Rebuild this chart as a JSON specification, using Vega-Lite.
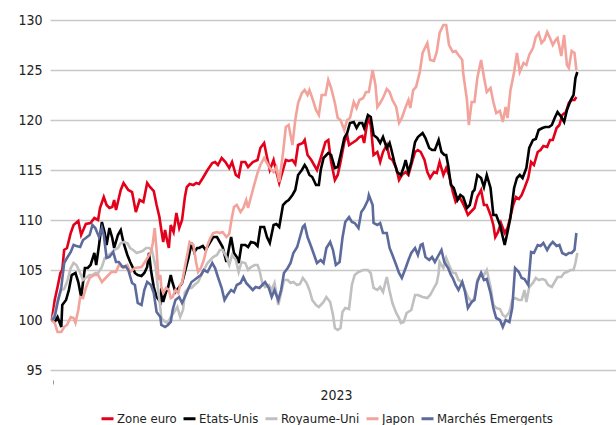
{
"$schema": "https://vega.github.io/schema/vega-lite/v6.json",
"width": 566, "height": 350,
"autosize": {"type": "none"},
"padding": {"left": 50, "top": 20, "right": 0, "bottom": 55},
"background": "white",
"config": {"view": {"stroke": null}, "font": "DejaVu Sans Condensed, Liberation Sans Narrow, sans-serif"},
"datasets": {
"ze": [[2,100],[5,102],[8,103.3],[11,104.7],[13,105],[15,107],[18,107.2],[22,108.7],[25,109.5],[30,109.9],[33,108.5],[38,109.6],[43,109.7],[47,110.2],[51,110],[53,111.2],[57,112.3],[60,111.5],[63,111.2],[66,111.3],[68,112],[70,111],[75,113],[78,113.7],[83,113],[87,112.8],[91,110.8],[95,112],[99,111.8],[103,113.7],[106,113.3],[110,112.9],[113,111.5],[116,110.3],[118,109],[120,107.8],[122,109],[124,108],[126,107.2],[128,109.5],[131,108.8],[134,110.7],[137,109.2],[140,110],[143,112.3],[145,113.3],[148,113.6],[152,113.5],[155,113.7],[158,113.6],[162,114.2],[167,115],[172,115.7],[175,115.8],[178,115.5],[182,116.2],[186,115.8],[190,115.2],[193,115.8],[197,114.5],[200,114.3],[203,115.8],[207,115.8],[210,115.3],[215,115.8],[220,116],[223,117.2],[227,117.7],[230,116.3],[233,115],[237,116],[240,114.8],[243,113.7],[247,115],[250,116],[253,115.9],[257,116],[260,115.6],[263,117.5],[268,117.7],[270,118],[273,116.5],[277,116],[280,115.5],[283,115],[287,116.2],[292,117.8],[295,118],[298,115.8],[302,114],[305,114.5],[308,115.8],[312,117.8],[315,118.5],[317,117.5],[322,117.8],[325,118],[328,118.3],[331,118.4],[333,117.7],[337,120.2],[340,119.5],[343,116.5],[347,116.8],[350,115.8],[353,116.8],[357,117.5],[360,116.2],[363,116],[367,115.2],[370,114],[373,114.5],[377,114.8],[380,114.5],[383,115.5],[387,116.8],[390,117],[393,116.8],[397,116],[400,114.8],[403,114.2],[407,114.8],[410,114.7],[413,115.8],[417,114.5],[420,115.2],[423,114.5],[427,112.8],[430,111.8],[434,112.3],[437,111.8],[440,111.2],[443,110.5],[447,110.9],[450,111.2],[453,112.3],[457,113],[460,111.5],[463,111.5],[467,110.5],[470,109.5],[472,108.3],[475,108.8],[478,109.7],[482,108.7],[485,109.2],[488,110.3],[491,111.5],[494,112.3],[497,112.1],[500,112.5],[503,113.2],[507,114.2],[510,115.8],[513,115.5],[517,116.8],[520,117],[523,117.4],[527,117.3],[530,118],[533,118],[537,119.2],[540,119.5],[543,120.5],[547,120.8],[550,121.7],[553,122],[556,122],[558,122.3]],
"us": [[2,100],[5,99.8],[8,100.3],[12,99.3],[13,101.5],[17,102],[20,103],[23,104.5],[27,104.7],[30,103.8],[33,102.3],[37,105.2],[40,105.2],[43,105.5],[47,106.7],[49,105.5],[52,107.5],[55,109.8],[58,108.7],[60,107.5],[63,109.2],[66,108.2],[68,107.2],[72,108.5],[75,109],[78,107.7],[82,106.5],[85,105.8],[88,105.2],[90,104.7],[93,104.5],[97,104.4],[100,104.7],[103,105.3],[105,106.7],[107,105],[110,103.3],[113,102.3],[117,101.8],[118,103.2],[120,101.8],[123,102.8],[125,103.2],[128,104.5],[130,103.7],[133,102.8],[137,103.3],[140,103.7],[143,104.8],[147,106.3],[150,107.7],[153,106.8],[156,107.2],[158,107.2],[162,107.4],[165,107],[168,107.5],[173,108.3],[177,108.3],[180,107.8],[183,107.3],[187,105.8],[190,107.3],[192,108.3],[195,106.7],[198,106.3],[200,105.7],[203,107.5],[207,107.5],[210,107.3],[213,107.8],[217,107.7],[220,107.4],[223,109.3],[227,109.3],[230,108.3],[233,107.7],[237,109.5],[240,109.6],[243,109.3],[247,111.5],[250,111.8],[253,112],[257,112.5],[260,113],[263,114.5],[267,115],[270,115.5],[272,115.2],[275,114.5],[278,114.3],[282,113.5],[285,113.5],[287,115],[290,116.2],[295,116.7],[298,116.5],[302,115.2],[305,115.3],[308,116.5],[312,118.2],[315,118.7],[318,119.7],[322,119.8],[325,119.2],[328,119.7],[331,119.7],[333,119.2],[337,120.5],[340,120.3],[343,118.5],[347,118.2],[350,117.7],[353,118.3],[357,117.2],[360,117.7],[362,117],[365,115.8],[368,114.8],[372,114.5],[375,115.3],[377,116],[380,114.8],[383,115.8],[387,117.8],[390,118.3],[395,118.7],[398,118.2],[402,117.2],[405,117],[408,117],[412,118],[415,116.8],[418,116.5],[420,116.5],[422,115.5],[425,113.5],[428,113.2],[432,112],[435,112.5],[438,112.3],[442,111.2],[445,111.5],[448,112.8],[450,113],[453,114.5],[457,114.2],[460,113.3],[463,114.5],[467,113.2],[470,110.5],[473,110.5],[477,109.5],[480,108.3],[482,107.5],[485,108.8],[488,110.2],[492,113.2],[495,114.2],[498,114.5],[501,114.2],[505,115.2],[508,117.2],[512,118],[515,118.1],[518,119],[522,119.2],[525,119.3],[529,119.3],[532,119.5],[535,120.2],[538,120.8],[542,120.3],[545,119.8],[548,121],[552,122],[555,122.5],[557,124.2],[559,124.8]],
"uk": [[2,100],[5,100.7],[8,102],[12,103],[15,103.1],[18,103.8],[22,105.2],[25,105.7],[28,105.5],[32,104.7],[35,104],[38,104.2],[42,104.5],[45,104.5],[48,104.7],[51,104.7],[55,105.3],[58,106.2],[62,106.5],[65,106.7],[68,107],[72,107.2],[75,107.7],[78,107.8],[82,107.7],[85,107.2],[88,107],[92,106.7],[95,106.8],[98,106.9],[102,107.2],[105,107.2],[108,107],[112,105.3],[115,102.7],[117,101.2],[118,100.2],[122,99.8],[125,99.7],[128,100.3],[131,100.7],[135,101.3],[138,100.3],[141,101],[143,102.8],[147,103.2],[150,103.2],[153,103.5],[157,103.8],[162,104.8],[167,105.7],[170,106],[173,106.3],[177,106.5],[180,107],[183,107],[187,106.3],[190,105.5],[193,106.5],[197,106],[200,104.8],[203,105.8],[207,105.7],[210,105],[213,105.3],[217,105.5],[220,105.5],[222,105],[225,103.7],[228,103.3],[232,103.5],[235,103],[238,103.7],[242,101.5],[245,102.7],[248,104],[252,104],[255,103.7],[258,103.8],[262,103.5],[265,103.6],[268,104.2],[272,103.7],[275,103],[278,102],[282,101.5],[285,101.3],[288,101.6],[290,101.8],[293,102.3],[297,101.8],[300,100.5],[302,99.2],[305,99],[308,99.2],[310,100.8],[313,101.2],[317,101.1],[320,103.5],[323,104.5],[327,104.8],[332,105],[337,105],[340,104.7],[343,103.2],[347,103],[350,103.3],[353,102.8],[357,104.3],[360,102.9],[363,101.7],[367,100.7],[370,100.2],[372,99.7],[375,99.8],[378,100.7],[383,101],[387,102.5],[390,102.5],[395,102.3],[400,102.2],[403,102.5],[407,103.2],[410,103.7],[412,104.7],[413,105.8],[417,105.2],[420,106.2],[423,105.5],[427,104.7],[430,104.7],[433,104],[437,103.8],[440,103],[443,102.3],[447,101.8],[450,102.2],[453,104],[457,104.7],[460,104.5],[463,105],[467,103.3],[470,101.5],[473,101.2],[477,101.1],[480,100.5],[483,100.3],[487,100.8],[490,102],[493,102.2],[497,102],[500,102],[503,103],[505,101.8],[508,103.3],[512,103.7],[515,104.2],[518,104],[522,104.1],[525,104],[528,103.5],[532,103.3],[535,103.8],[538,104.3],[542,104.3],[545,104.7],[548,104.8],[552,105],[555,105],[557,105.7],[559,106.7]],
"jp": [[2,100],[5,99.7],[8,98.8],[12,98.8],[15,99.3],[18,99.5],[22,100.3],[25,100.2],[27,99.7],[30,101],[32,102.3],[35,102.2],[38,103.2],[42,104.2],[47,104.5],[51,104.5],[55,103.8],[60,104.3],[65,104.8],[70,104.8],[73,105.5],[78,105.2],[82,105.5],[85,104.8],[90,105.2],[97,105.3],[102,106],[107,106.8],[109,107.7],[111,109.2],[113,107],[115,104],[117,104.5],[118,103.3],[120,102.7],[123,103.2],[126,103],[128,102.2],[130,102.3],[133,103],[136,102.7],[138,103.5],[140,103.7],[143,105.3],[145,106.3],[148,107.8],[152,107.5],[155,105.7],[157,104.8],[160,105.2],[163,106],[167,107.5],[170,108.2],[173,108.7],[177,108.8],[180,108.7],[183,108.8],[187,108.3],[190,108.6],[192,109.8],[195,111.3],[198,111.5],[202,110.8],[205,111.2],[208,112],[210,111.2],[213,112.3],[217,113.7],[220,114.7],[223,115.5],[227,116.2],[230,115.7],[233,115.2],[237,114.8],[240,115.3],[243,113.8],[247,116.7],[250,119.3],[253,119.5],[257,117.5],[260,120],[263,121.7],[267,122.7],[270,123],[273,122.5],[275,123],[278,122.2],[282,121],[285,120.5],[288,122.5],[292,122.5],[295,124],[298,123.2],[302,121.7],[305,120.2],[308,120],[312,119],[315,120],[318,120.2],[322,121.8],[325,121.2],[328,122],[332,122.2],[335,122.8],[338,122.8],[342,125],[345,123.5],[347,121.3],[350,121.7],[353,122.2],[357,123.1],[360,122.8],[363,122],[367,121.3],[370,119.7],[373,120.2],[377,121.3],[380,122],[382,121.2],[385,123],[388,123.3],[392,124.8],[395,126.7],[400,127.7],[403,126],[407,125.9],[410,126.8],[413,128.7],[417,129.5],[420,129.5],[423,127.5],[427,126.8],[430,126.9],[433,126.5],[437,126],[438,124.7],[442,122],[444,119.5],[447,121.8],[450,121.8],[453,124.2],[457,126],[460,124.3],[463,122.8],[467,123.2],[470,121.8],[473,120.7],[477,120.9],[480,119.8],[483,121.3],[485,120.2],[488,122.9],[492,124.8],[495,126.7],[498,124.8],[502,125.7],[505,125.5],[508,126.5],[512,127.2],[515,128.3],[518,128.7],[521,127.7],[524,128],[527,128.8],[530,128.2],[533,127.5],[536,128],[538,128.2],[542,126.4],[545,128.5],[548,125.5],[550,125.2],[553,126.9],[556,126.7],[558,125]],
"em": [[2,100],[5,100.3],[8,101.7],[12,103.3],[15,105.7],[18,106.2],[22,106.8],[25,107.5],[28,107.4],[32,107.3],[35,108],[38,108.2],[42,108.5],[45,109.5],[48,109.2],[52,108.3],[55,109.2],[57,108.5],[60,106.2],[63,106.3],[67,106.8],[70,105.8],[73,105.8],[77,105.3],[80,105.4],[83,105],[87,103.7],[90,103.5],[93,101.7],[97,101.5],[100,103],[103,103.8],[107,103.5],[110,102.7],[113,100.8],[117,100.3],[118,99.5],[122,99.3],[125,99.5],[128,99.8],[130,101],[133,102],[137,102.3],[140,101.7],[143,102.3],[147,103.2],[150,103.8],[153,104],[157,104.3],[160,104.5],[163,105],[167,104.8],[172,105.7],[175,105.2],[178,104.3],[182,103.2],[185,102],[188,102.5],[192,103],[195,102.8],[198,103.5],[202,103.7],[205,104.3],[208,103.7],[212,103.3],[215,103],[218,103.3],[222,103.2],[225,103.5],[228,103.8],[232,103.2],[235,102.3],[238,103],[242,102],[245,103],[248,104.7],[252,105.2],[255,105.7],[258,106.7],[262,107.3],[265,108.3],[268,109.3],[270,109.5],[273,108.3],[277,107.3],[280,106.5],[283,105.7],[287,106],[290,105.7],[293,107.2],[297,107.8],[300,107],[303,105.5],[307,105.8],[310,108.2],[313,109.8],[317,110.3],[320,109.8],[323,109.7],[327,109.2],[330,110.8],[333,111.2],[337,112],[338,112.5],[342,111.5],[343,109.7],[347,109.5],[350,109.7],[353,108.7],[357,108.7],[360,107.2],[363,106.5],[367,105.5],[370,104.7],[373,104.2],[377,105.2],[380,106],[383,106.7],[387,107.2],[390,106.5],[393,107.5],[395,107.6],[398,106.3],[402,106],[405,106.3],[408,105.8],[412,106.5],[415,107],[418,105.8],[422,105.2],[425,104.5],[427,104.2],[430,103.5],[433,103],[437,103.8],[440,102.8],[443,101.2],[447,101.8],[450,102],[453,103.8],[457,104.7],[460,104],[463,104.1],[467,102.7],[470,101.2],[473,100.2],[477,100],[480,99.3],[483,100],[487,99.8],[490,101.2],[493,105.2],[497,104.8],[500,104.2],[503,104.1],[507,103.5],[510,106.8],[513,106.7],[517,107.5],[520,107.4],[523,107.7],[527,107],[530,107.5],[533,107.8],[537,107.4],[540,107.5],[543,106.7],[547,106.5],[550,106.7],[553,106.7],[556,107],[558,108.7]]
},
"layer": [
{"data": {"name": "ze"}, "transform": [{"calculate": "'Zone euro'", "as": "s"}, {"calculate": "datum[0]", "as": "j"}, {"calculate": "datum[1]", "as": "v"}],
 "mark": {"type": "line", "strokeWidth": 2.6},
 "encoding": {
  "x": {"field": "j", "type": "quantitative", "scale": {"domain": [0, 566]},
        "axis": {"values": [3], "labels": false, "ticks": true, "tickSize": 4, "tickColor": "#999999", "tickWidth": 1, "domain": false, "grid": false, "offset": 10, "title": "2023", "titleFontSize": 14, "titleFontWeight": "normal", "titleColor": "#222222", "titlePadding": 4, "titleX": 286}},
  "y": {"field": "v", "type": "quantitative", "scale": {"domain": [95, 130]},
        "axis": {"values": [95, 100, 105, 110, 115, 120, 125, 130], "domain": false, "ticks": false, "labelPadding": 8, "labelFontSize": 14, "labelColor": "#222222", "gridColor": "#c8c8c8", "gridWidth": 1.5, "title": null}},
  "color": {"field": "s", "type": "nominal",
        "scale": {"domain": ["Zone euro", "Etats-Unis", "Royaume-Uni", "Japon", "Marchés Emergents"], "range": ["#e3001b", "#000000", "#c0c0c0", "#f2a39b", "#5c6a9c"]},
        "legend": {"orient": "none", "legendX": 50, "legendY": 391, "direction": "horizontal", "title": null, "symbolType": "stroke", "symbolSize": 144, "symbolStrokeWidth": 3, "labelFontSize": 13, "labelColor": "#222222", "labelOffset": 2, "columnPadding": 0}}
 }},
{"data": {"name": "us"}, "transform": [{"calculate": "'Etats-Unis'", "as": "s"}, {"calculate": "datum[0]", "as": "j"}, {"calculate": "datum[1]", "as": "v"}],
 "mark": {"type": "line", "strokeWidth": 2.6},
 "encoding": {"x": {"field": "j", "type": "quantitative"}, "y": {"field": "v", "type": "quantitative"}, "color": {"field": "s", "type": "nominal"}}},
{"data": {"name": "uk"}, "transform": [{"calculate": "'Royaume-Uni'", "as": "s"}, {"calculate": "datum[0]", "as": "j"}, {"calculate": "datum[1]", "as": "v"}],
 "mark": {"type": "line", "strokeWidth": 2.6},
 "encoding": {"x": {"field": "j", "type": "quantitative"}, "y": {"field": "v", "type": "quantitative"}, "color": {"field": "s", "type": "nominal"}}},
{"data": {"name": "jp"}, "transform": [{"calculate": "'Japon'", "as": "s"}, {"calculate": "datum[0]", "as": "j"}, {"calculate": "datum[1]", "as": "v"}],
 "mark": {"type": "line", "strokeWidth": 2.6},
 "encoding": {"x": {"field": "j", "type": "quantitative"}, "y": {"field": "v", "type": "quantitative"}, "color": {"field": "s", "type": "nominal"}}},
{"data": {"name": "em"}, "transform": [{"calculate": "'Marchés Emergents'", "as": "s"}, {"calculate": "datum[0]", "as": "j"}, {"calculate": "datum[1]", "as": "v"}],
 "mark": {"type": "line", "strokeWidth": 2.6},
 "encoding": {"x": {"field": "j", "type": "quantitative"}, "y": {"field": "v", "type": "quantitative"}, "color": {"field": "s", "type": "nominal"}}}
]
}
